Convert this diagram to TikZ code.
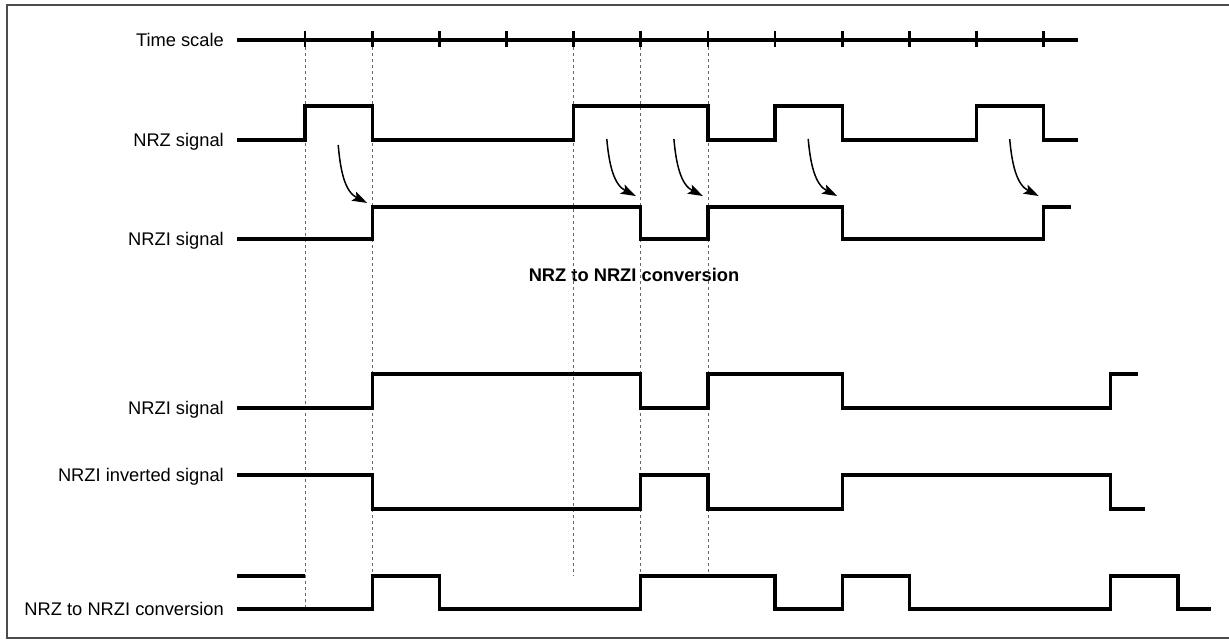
\documentclass[tikz,border=0pt]{standalone}
\usepackage{fontspec}
\setmainfont{Liberation Sans}
\usepackage{tikz}
\usetikzlibrary{arrows.meta,calc}

\begin{document}
\begin{tikzpicture}[
  x=1pt, y=-1pt,
  lab/.style={anchor=base east, yshift=-6.5pt, inner sep=0pt,
              font=\fontsize{18.3}{22}\selectfont},
  ttl/.style={anchor=base, yshift=-6.5pt, inner sep=0pt,
              font=\fontsize{18.3}{22}\selectfont\bfseries},
  sig/.style={line width=3.3pt},
  tck/.style={line width=2.8pt},
  dsh/.style={black!60, line width=0.8pt, dash pattern=on 3pt off 3pt},
  arr/.style={-{Stealth[length=15pt, width=10pt, inset=3pt]}, line width=1.5pt},
  frm/.style={black!70, line width=1.5pt}
]
\useasboundingbox (0,0) rectangle (1229,640);
\draw[frm] (7,5) rectangle (1245,638);

% labels
\node[lab] (ts)    at (224,40)  {Time scale};
\node[lab] (nrz)   at (224,140) {NRZ signal};
\node[lab] (nrzi)  at (224,239) {NRZI signal};
\node[ttl] (title) at (634,275) {NRZ to NRZI conversion};
\node[lab] (nrzib) at (224,408) {NRZI signal};
\node[lab] (inv)   at (224,475) {NRZI inverted signal};
\node[lab] (conv)  at (224,609) {NRZ to NRZI conversion};

% time scale
\draw[sig] (237,40) -- (1078,40);
\foreach \k in {0,...,11}
  \draw[tck] ({305+67.15*\k},31) -- ({305+67.15*\k},47);

% dashed guides
\draw[dsh] (305,47) -- (305,609);
\foreach \x in {372.2, 573.6, 640.8, 707.9}
  \draw[dsh] (\x,47) -- (\x,576);

% NRZ signal
\draw[sig] (237,140) -| (305,106) -| (372.2,140) -| (573.6,106) -| (707.9,140)
  -| (775.1,106) -| (842.2,140) -| (976.5,106) -| (1043.7,140) -- (1078,140);

% NRZI signal
\draw[sig] (237,239) -| (372.2,207) -| (640.8,239) -| (707.9,207) -| (842.2,239)
  -| (1043.7,207) -- (1071,207);

% transitions
\foreach \i/\x/\ys/\ye in {1/372.2/145/203, 2/640.8/139/196, 3/707.9/139/196,
                            4/842.2/139/196, 5/1043.7/139/196} {
  \coordinate (s\i) at (\x-34,\ys);
  \coordinate (e\i) at (\x-5,\ye);
  \draw[arr] (s\i) to[out=-85, in=153] (e\i);
}

% NRZI signal, again
\draw[sig] (237,408) -| (372.2,374) -| (640.8,408) -| (707.9,374) -| (842.2,408)
  -| (1110.8,374) -- (1138,374);

% NRZI inverted
\draw[sig] (237,475) -| (372.2,509) -| (640.8,475) -| (707.9,509) -| (842.2,475)
  -| (1110.8,509) -- (1145,509);

% NRZ to NRZI conversion
\draw[sig] (237,576) -- (305,576);
\draw[sig] (237,609) -| (372.2,576) -| (439.3,609) -| (640.8,576) -| (775.1,609)
  -| (842.2,576) -| (909.4,609) -| (1110.8,576) -| (1178,609) -- (1211,609);
\end{tikzpicture}
\end{document}
